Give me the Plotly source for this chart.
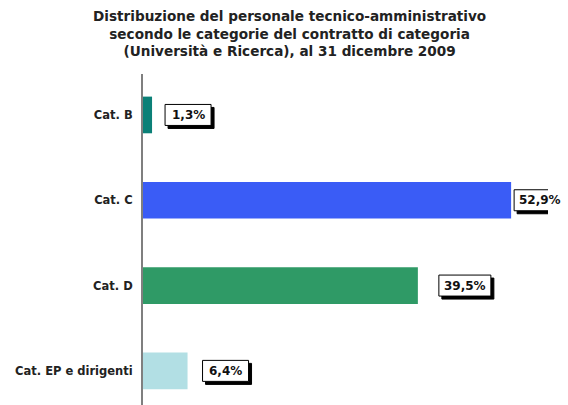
import plotly.graph_objects as go

categories = ["Cat. B", "Cat. C", "Cat. D", "Cat. EP e dirigenti"]
values = [1.3, 52.9, 39.5, 6.4]
labels = ["1,3%", "52,9%", "39,5%", "6,4%"]
colors = ["#0b8077", "#3a5cf6", "#2f9a66", "#b2dfe4"]

# pixel gap between bar end and its label box
label_gaps = [13, 3, 21, 15]

title = ("Distribuzione del personale tecnico-amministrativo<br>"
         "secondo le categorie del contratto di categoria<br>"
         "(Università e Ricerca), al 31 dicembre 2009")

FONT = "DejaVu Sans"

fig = go.Figure(go.Bar(
    x=values,
    y=list(range(len(categories))),
    orientation="h",
    marker=dict(color=colors, line=dict(width=0)),
    width=0.43,
    hoverinfo="skip",
))

# boxed value labels with a drop shadow (box sized in pixels from the text length)
SHADOW, BOX_H = 3, 21
for i, (val, lab, gap) in enumerate(zip(values, labels, label_gaps)):
    w = 6 * len(lab) + 22
    for off, fill in ((SHADOW, "#000000"), (0, "#ffffff")):
        fig.add_shape(type="rect", xref="x", yref="y",
                      xsizemode="pixel", ysizemode="pixel",
                      xanchor=val, yanchor=i,
                      x0=gap + off, x1=gap + off + w,
                      y0=-BOX_H / 2 - off, y1=BOX_H / 2 - off,
                      fillcolor=fill, line=dict(color="#000000", width=1),
                      layer="above")
    fig.add_annotation(x=val, y=i, xref="x", yref="y", text=lab, showarrow=False,
                       xanchor="center", yanchor="middle",
                       xshift=gap + w / 2, yshift=0,
                       font=dict(family=FONT, size=12, weight="bold", color="#111111"))

# chart title
fig.add_annotation(text=title, xref="paper", yref="paper",
                   x=(289 - 143) / 405, y=1 + (74 - 33) / 331,
                   xanchor="center", yanchor="middle", showarrow=False,
                   align="center",
                   font=dict(family=FONT, size=13.6, weight="bold", color="#222222"))

fig.update_layout(
    width=568,
    height=405,
    margin=dict(l=143, r=20, t=74, b=0),
    paper_bgcolor="white",
    plot_bgcolor="white",
    showlegend=False,
    xaxis=dict(range=[0, 58.2], visible=False, showgrid=False, zeroline=False),
    yaxis=dict(
        tickmode="array",
        tickvals=list(range(len(categories))),
        ticktext=categories,
        range=[3.40, -0.48],
        showgrid=False,
        zeroline=False,
        showline=True,
        linecolor="#7f7f7f",
        linewidth=2,
        ticks="",
        ticklabelstandoff=6,
        tickfont=dict(family=FONT, size=11.5, weight="bold", color="#222222"),
    ),
)

fig.write_html("out.html")
